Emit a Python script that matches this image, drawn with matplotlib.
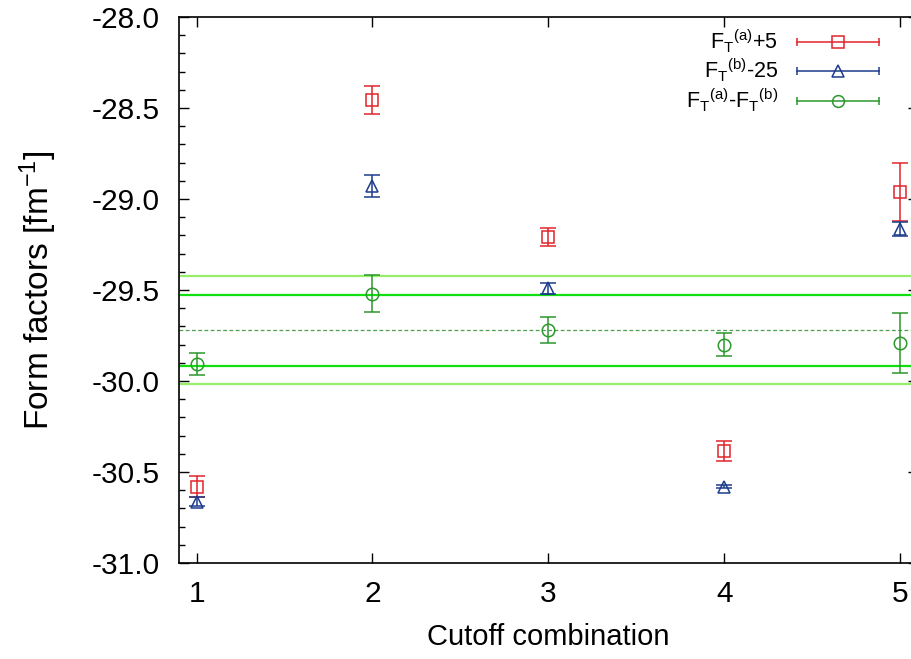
import numpy as np
import matplotlib
matplotlib.use("Agg")
import matplotlib.pyplot as plt
from matplotlib.lines import Line2D
from matplotlib.legend_handler import HandlerBase

plt.rcParams["font.family"] = ["Liberation Sans", "DejaVu Sans"]
plt.rcParams["mathtext.fontset"] = "custom"
plt.rcParams["mathtext.rm"] = "Liberation Sans"
plt.rcParams["mathtext.it"] = "Liberation Sans:italic"

cutoff = [1, 2, 3, 4, 5]

fa_plus5 = [-30.58, -28.456, -29.21, -30.385, -28.96]
fa_plus5_err = [0.06, 0.077, 0.05, 0.055, 0.16]

fb_minus25 = [-30.663, -28.93, -29.49, -30.58, -29.165]
fb_minus25_err = [0.025, 0.06, 0.03, 0.01, 0.04]

fa_minus_fb = [-29.908, -29.52, -29.72, -29.80, -29.793]
fa_minus_fb_err = [0.06, 0.10, 0.07, 0.065, 0.165]

mean_val = -29.72
band_inner = 0.195
band_outer = 0.295

labels = [r"F$_\mathrm{T}$$^\mathrm{(a)}$+5",
          r"F$_\mathrm{T}$$^\mathrm{(b)}$-25",
          r"F$_\mathrm{T}$$^\mathrm{(a)}$-F$_\mathrm{T}$$^\mathrm{(b)}$"]

red = "#e0242a"
blue = "#1c3c8c"
green = "#2c972c"


class CapHandler(HandlerBase):
    def create_artists(self, legend, orig_handle, xdescent, ydescent,
                       width, height, fontsize, trans):
        y = height / 2 - ydescent
        x0, x1 = -xdescent, width - xdescent
        c = orig_handle.get_color()
        line = Line2D([x0, x1], [y, y], color=c, lw=1.1)
        caps = Line2D([x0, x1], [y, y], ls="none", marker="|", ms=6,
                      mew=1.1, color=c)
        mk = Line2D([(x0 + x1) / 2], [y], ls="none",
                    marker=orig_handle.get_marker(), mfc="none", mec=c,
                    ms=orig_handle.get_markersize(), mew=1.1)
        for a in (line, caps, mk):
            a.set_transform(trans)
        return [line, caps, mk]


fig = plt.figure(figsize=(9.12, 6.59), dpi=100)
ax = fig.add_axes([179 / 912, 96 / 659, 738.6 / 912, 546 / 659])

ax.axhline(mean_val, color="#4f9f4f", lw=0.9, ls=(0, (3, 2)), zorder=1)
for s in (-1, 1):
    ax.axhline(mean_val + s * band_inner, color="#10e010", lw=1.6, zorder=1)
    ax.axhline(mean_val + s * band_outer, color="#96ee6a", lw=1.6, zorder=1)

series = [
    (fa_plus5, fa_plus5_err, red, "s", 8.5),
    (fb_minus25, fb_minus25_err, blue, "^", 8.5),
    (fa_minus_fb, fa_minus_fb_err, green, "o", 9),
]
handles = []
for (vals, errs, col, mk, ms), lab in zip(series, labels):
    ax.errorbar(cutoff, vals, yerr=errs, fmt=mk, color=col, mfc="none",
                mec=col, ms=ms, mew=1.1, elinewidth=1.1, capsize=5.8,
                capthick=1.1, zorder=3)
    handles.append(Line2D([], [], color=col, marker=mk, ms=ms - 0.5, label=lab))

ax.set_xlim(0.9, 5.1)
ax.set_ylim(-31.0, -28.0)
ax.set_xticks(cutoff)
ax.set_yticks(np.arange(-31.0, -27.99, 0.5))
ax.set_yticks(np.arange(-31.0, -27.99, 0.1), minor=True)
ax.yaxis.set_major_formatter(plt.FormatStrFormatter("%.1f"))
ax.tick_params(which="both", direction="in", top=True, right=True,
               labelsize=21.5, width=1)
ax.tick_params(axis="y", pad=14)
ax.tick_params(axis="x", pad=12)
ax.tick_params(which="major", length=7)
ax.tick_params(which="minor", length=4)
for sp in ax.spines.values():
    sp.set_linewidth(1.2)

ax.set_xlabel("Cutoff combination", fontsize=21, labelpad=11)
ax.set_ylabel(r"Form factors [fm$^{-1}$]", fontsize=24, labelpad=23)

ax.legend(handles=handles, handler_map={Line2D: CapHandler()},
          loc="upper right", bbox_to_anchor=(0.948, 0.98),
          frameon=False, fontsize=15.5, markerfirst=False,
          handlelength=3.8, handletextpad=0.9, labelspacing=0.1,
          borderpad=0, borderaxespad=0)

fig.savefig("out.png", dpi=100)
